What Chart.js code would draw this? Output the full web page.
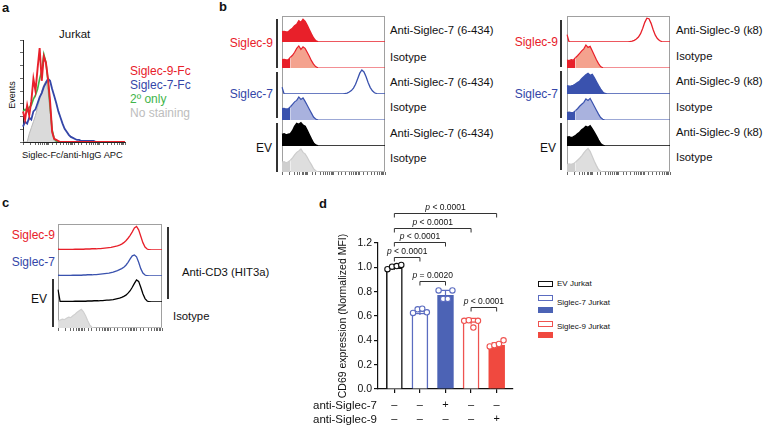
<!DOCTYPE html>
<html lang="en">
<head>
<meta charset="UTF-8" />
<title>Siglec-7 / Siglec-9 Jurkat figure</title>
<script src="https://cdn.jsdelivr.net/npm/chart.js"></script>
<style>
  body { margin: 0; background: #fff; font-family: 'Liberation Sans', Arial, sans-serif; color: #111; }
  #fig { position: relative; width: 763px; height: 427px; overflow: hidden; }
  #fig canvas { position: absolute; }
  .t { position: absolute; white-space: nowrap; line-height: 1; transform: translateY(-50%); }
  .r { transform: translate(-100%, -50%); }
  .pl { font-weight: bold; font-size: 13px; }
  .vb { position: absolute; width: 1.5px; background: #333; }
  .lg { position: absolute; width: 15px; height: 6px; box-sizing: border-box; }
  .lab { font-size: 11.3px; }
</style>
</head>
<body>
<div id="fig">
  <!-- panel a -->
  <div class="t pl" style="left:2px;top:7px">a</div>
  <div class="t" style="left:59px;top:35px;font-size:11.5px">Jurkat</div>
  <div class="t" style="left:12px;top:95px;font-size:9px;transform:translate(-50%,-50%) rotate(-90deg)">Events</div>
  <div class="t" style="left:22px;top:156px;font-size:9.3px">Siglec-Fc/anti-hIgG APC</div>
  <div class="t" style="left:130px;top:71px;font-size:12px;color:#e8202a">Siglec-9-Fc</div>
  <div class="t" style="left:130px;top:85px;font-size:12px;color:#3446a8">Siglec-7-Fc</div>
  <div class="t" style="left:130px;top:99px;font-size:12px;color:#3fb54a">2º only</div>
  <div class="t" style="left:130px;top:113px;font-size:12px;color:#bdbdbd">No staining</div>
  <canvas id="pa" width="112" height="112" style="left:18px;top:36px"></canvas>

  <!-- panel b -->
  <div class="t pl" style="left:219px;top:6px">b</div>
  <div class="t r" style="left:273px;top:43px;font-size:12px;color:#e8202a">Siglec-9</div>
  <div class="t r" style="left:273px;top:94px;font-size:12px;color:#3446a8">Siglec-7</div>
  <div class="t r" style="left:272px;top:148px;font-size:12px">EV</div>
  <div class="vb" style="left:276px;top:19px;height:49px"></div>
  <div class="vb" style="left:276px;top:72px;height:46px"></div>
  <div class="vb" style="left:276px;top:123px;height:49px"></div>
  <canvas id="pbl" width="108" height="163" style="left:280px;top:14px"></canvas>
  <div class="t lab" style="left:390px;top:31px">Anti-Siglec-7 (6-434)</div>
  <div class="t lab" style="left:390px;top:58px">Isotype</div>
  <div class="t lab" style="left:390px;top:83px">Anti-Siglec-7 (6-434)</div>
  <div class="t lab" style="left:390px;top:108px">Isotype</div>
  <div class="t lab" style="left:390px;top:134px">Anti-Siglec-7 (6-434)</div>
  <div class="t lab" style="left:390px;top:159px">Isotype</div>

  <div class="t r" style="left:558px;top:42px;font-size:12px;color:#e8202a">Siglec-9</div>
  <div class="t r" style="left:558px;top:94px;font-size:12px;color:#3446a8">Siglec-7</div>
  <div class="t r" style="left:556px;top:148px;font-size:12px">EV</div>
  <div class="vb" style="left:560px;top:20px;height:47px"></div>
  <div class="vb" style="left:560px;top:71px;height:47px"></div>
  <div class="vb" style="left:560px;top:123px;height:47px"></div>
  <canvas id="pbr" width="108" height="163" style="left:565px;top:14px"></canvas>
  <div class="t lab" style="left:676px;top:31px">Anti-Siglec-9 (k8)</div>
  <div class="t lab" style="left:676px;top:57px">Isotype</div>
  <div class="t lab" style="left:676px;top:82px">Anti-Siglec-9 (k8)</div>
  <div class="t lab" style="left:676px;top:108px">Isotype</div>
  <div class="t lab" style="left:676px;top:133px">Anti-Siglec-9 (k8)</div>
  <div class="t lab" style="left:676px;top:158px">Isotype</div>

  <!-- panel c -->
  <div class="t pl" style="left:2px;top:202px">c</div>
  <div class="t r" style="left:55px;top:235px;font-size:12px;color:#e8202a">Siglec-9</div>
  <div class="t r" style="left:55px;top:262px;font-size:12px;color:#3446a8">Siglec-7</div>
  <div class="t r" style="left:47px;top:299px;font-size:12px">EV</div>
  <div class="vb" style="left:52px;top:279px;height:48px"></div>
  <canvas id="pc" width="109" height="111" style="left:56px;top:222px"></canvas>
  <div class="vb" style="left:167px;top:227px;height:72px"></div>
  <div class="t lab" style="left:182px;top:273px">Anti-CD3 (HIT3a)</div>
  <div class="t lab" style="left:173px;top:317px">Isotype</div>

  <!-- panel d -->
  <div class="t pl" style="left:319px;top:203px">d</div>
  <canvas id="pd" width="190" height="227" style="left:330px;top:200px"></canvas>
  <div class="t" style="left:313px;top:406px;font-size:11.5px">anti-Siglec-7</div>
  <div class="t" style="left:313px;top:420px;font-size:11.5px">anti-Siglec-9</div>
  <div class="lg" style="left:538px;top:281px;border:1.3px solid #111"></div>
  <div class="lg" style="left:538px;top:295px;border:1.3px solid #5b6cc0"></div>
  <div class="lg" style="left:538px;top:307px;background:#4c63b5"></div>
  <div class="lg" style="left:538px;top:321px;border:1.3px solid #ef5350"></div>
  <div class="lg" style="left:538px;top:332px;background:#f0493f"></div>
  <div class="t" style="left:557px;top:284px;font-size:8px">EV Jurkat</div>
  <div class="t" style="left:557px;top:303px;font-size:8px">Siglec-7 Jurkat</div>
  <div class="t" style="left:557px;top:327px;font-size:8px">Siglec-9 Jurkat</div>
</div>

<script>
  Chart.defaults.font.family = "'Liberation Sans', Arial, sans-serif";
  Chart.defaults.color = '#111';

  // histogram bins (log fluorescence channels, left to right)
  const bins = Array.from({length: 50}, (_, i) => i);

  // panel a: Jurkat stained with Siglec-Fc
  const noStain = [0,0,0,0.08,0.14,0.2,0.26,0.34,0.42,0.5, 0.56,0.6,0.5,0.3,0.08,0.01,0,0,0,0,
    0,0,0,0,0,0,0,0,0,0, 0,0,0,0,0,0,0,0,0,0, 0,0,0,0,0,0,0,0,0,0];
  const secOnly = [0.3,0.32,0.3,0.34,0.36,0.42,0.46,0.52,0.62,0.7, 0.86,0.78,0.6,0.35,0.12,0.03,0.01,0,0,0,
    0,0,0,0,0,0,0,0,0,0, 0,0,0,0,0,0,0,0,0,0, 0,0,0,0,0,0,0,0,0,0];
  const sig9Fc = [0.3,0.22,0.36,0.26,0.4,0.62,0.5,0.72,0.92,0.6, 0.84,0.78,0.62,0.4,0.1,0.03,0.02,0.01,0,0,
    0,0,0,0,0,0,0,0,0,0, 0,0,0,0,0,0,0,0,0,0, 0,0,0,0,0,0,0,0,0,0];
  const sig7Fc = [0.15,0.2,0.18,0.24,0.22,0.3,0.32,0.38,0.44,0.48, 0.54,0.58,0.62,0.6,0.52,0.45,0.38,0.3,0.24,0.18,
    0.13,0.1,0.07,0.05,0.04,0.03,0.02,0.02,0.01,0.01, 0.01,0.01,0.01,0.01,0.01,0,0,0,0,0, 0,0,0,0,0,0,0,0,0,0];

  // panel b left: anti-Siglec-7 (6-434)
  const sig9Anti7 = [0.42,0.43,0.41,0.42,0.5,0.56,0.66,0.72,0.86,0.8, 0.92,0.84,0.68,0.5,0.32,0.16,0.05,0.01,0,0,
    0,0,0,0,0,0,0,0,0,0, 0,0,0,0,0,0,0,0,0,0, 0,0,0,0,0,0,0,0,0,0];
  const sig9Iso7 = [0.34,0.35,0.33,0.34,0.44,0.52,0.64,0.8,0.9,0.76, 0.86,0.8,0.64,0.48,0.3,0.16,0.06,0.01,0,0,
    0,0,0,0,0,0,0,0,0,0, 0,0,0,0,0,0,0,0,0,0, 0,0,0,0,0,0,0,0,0,0];
  const sig7Anti7 = [0.28,0,0,0,0,0,0,0,0,0, 0,0,0,0,0,0,0,0,0,0, 0,0,0,0,0,0,0,0,0,0,
    0.02,0.04,0.08,0.14,0.24,0.4,0.62,0.85,0.98,0.9, 0.7,0.46,0.26,0.13,0.05,0.02,0,0,0,0];
  const sig7Iso7 = [0.46,0.47,0.45,0.46,0.54,0.64,0.74,0.8,0.94,0.84, 0.9,0.76,0.6,0.44,0.28,0.12,0.04,0.01,0,0,
    0,0,0,0,0,0,0,0,0,0, 0,0,0,0,0,0,0,0,0,0, 0,0,0,0,0,0,0,0,0,0];
  const evAnti7 = [0.47,0.5,0.45,0.48,0.5,0.62,0.8,0.92,0.88,0.95, 0.85,0.8,0.64,0.46,0.28,0.12,0.04,0.01,0,0,
    0,0,0,0,0,0,0,0,0,0, 0,0,0,0,0,0,0,0,0,0, 0,0,0,0,0,0,0,0,0,0];
  const evIso7 = [0.4,0.42,0.38,0.42,0.48,0.58,0.7,0.8,0.86,0.94, 0.8,0.74,0.6,0.44,0.3,0.14,0.05,0.01,0,0,
    0,0,0,0,0,0,0,0,0,0, 0,0,0,0,0,0,0,0,0,0, 0,0,0,0,0,0,0,0,0,0];

  // panel b right: anti-Siglec-9 (k8)
  const sig9Anti9 = [0.3,0,0,0,0,0,0,0,0,0, 0,0,0,0,0,0,0,0,0,0, 0,0,0,0,0,0,0,0,0,0,
    0.02,0.04,0.07,0.12,0.2,0.34,0.55,0.8,0.97,0.95, 0.76,0.5,0.28,0.14,0.06,0.02,0,0,0,0];
  const sig9Iso9 = [0.32,0.3,0.34,0.32,0.42,0.5,0.6,0.7,0.78,0.94, 0.84,0.88,0.7,0.52,0.34,0.18,0.06,0.01,0,0,
    0,0,0,0,0,0,0,0,0,0, 0,0,0,0,0,0,0,0,0,0, 0,0,0,0,0,0,0,0,0,0];
  const sig7Anti9 = [0.34,0.32,0.33,0.35,0.4,0.46,0.52,0.62,0.7,0.78, 0.84,0.76,0.8,0.66,0.5,0.34,0.2,0.08,0.02,0,
    0,0,0,0,0,0,0,0,0,0, 0,0,0,0,0,0,0,0,0,0, 0,0,0,0,0,0,0,0,0,0];
  const sig7Iso9 = [0.3,0.32,0.3,0.31,0.38,0.46,0.56,0.64,0.72,0.86, 0.8,0.88,0.72,0.56,0.4,0.24,0.1,0.03,0,0,
    0,0,0,0,0,0,0,0,0,0, 0,0,0,0,0,0,0,0,0,0, 0,0,0,0,0,0,0,0,0,0];
  const evAnti9 = [0.36,0.38,0.34,0.37,0.42,0.5,0.56,0.66,0.72,0.8, 0.76,0.82,0.7,0.56,0.4,0.24,0.1,0.03,0,0,
    0,0,0,0,0,0,0,0,0,0, 0,0,0,0,0,0,0,0,0,0, 0,0,0,0,0,0,0,0,0,0];
  const evIso9 = [0.3,0.33,0.31,0.34,0.4,0.48,0.56,0.66,0.78,0.88, 0.96,0.84,0.64,0.44,0.26,0.1,0.03,0,0,0,
    0,0,0,0,0,0,0,0,0,0, 0,0,0,0,0,0,0,0,0,0, 0,0,0,0,0,0,0,0,0,0];

  // panel c: anti-CD3 (HIT3a)
  const cd3Sig9 = [0.03,0.02,0.02,0.02,0.02,0.02,0.02,0.02,0.03,0.03, 0.03,0.03,0.03,0.04,0.04,0.04,0.05,0.05,0.05,0.06,
    0.06,0.07,0.08,0.09,0.1,0.11,0.13,0.15,0.17,0.2, 0.24,0.3,0.38,0.48,0.6,0.74,0.9,0.96,0.82,0.56, 0.3,0.12,0.04,0.01,0,0,0,0,0,0];
  const cd3Sig7 = [0.03,0.02,0.02,0.02,0.02,0.02,0.02,0.03,0.03,0.03, 0.03,0.03,0.04,0.04,0.05,0.05,0.05,0.06,0.06,0.07,
    0.08,0.09,0.1,0.11,0.12,0.14,0.16,0.19,0.22,0.26, 0.3,0.36,0.44,0.56,0.7,0.82,0.86,0.78,0.56,0.3, 0.12,0.04,0.01,0,0,0,0,0,0,0];
  const cd3Ev = [0.5,0.02,0.02,0.02,0.02,0.02,0.02,0.02,0.03,0.03, 0.03,0.03,0.03,0.03,0.04,0.04,0.04,0.05,0.05,0.05,
    0.06,0.06,0.07,0.08,0.08,0.09,0.1,0.12,0.14,0.16, 0.19,0.23,0.28,0.36,0.46,0.6,0.76,0.9,0.84,0.6, 0.34,0.14,0.04,0.01,0,0,0,0,0,0];
  const cd3Iso = [0.28,0.32,0.36,0.34,0.4,0.44,0.42,0.5,0.56,0.64, 0.7,0.76,0.66,0.5,0.3,0.12,0.03,0,0,0,
    0,0,0,0,0,0,0,0,0,0, 0,0,0,0,0,0,0,0,0,0, 0,0,0,0,0,0,0,0,0,0];

  // panel d: CD69 expression
  const groups = ['EV', 'Siglec-7', 'Siglec-7 + anti-Siglec-7', 'Siglec-9', 'Siglec-9 + anti-Siglec-9'];
  const antiS7 = ['\u2013', '\u2013', '+', '\u2013', '\u2013'];
  const antiS9 = ['\u2013', '\u2013', '\u2013', '\u2013', '+'];
  const barMFI = [0.995, 0.625, 0.77, 0.555, 0.36];
  const sdMFI = [0.015, 0.017, 0.04, 0.025, 0.02];
  const reps = [
    [0.985, 1.005, 1.01, 1.02],
    [0.625, 0.655, 0.66, 0.63],
    [0.81, 0.74, 0.74, 0.81],
    [0.56, 0.565, 0.505, 0.56],
    [0.35, 0.36, 0.37, 0.4]
  ];
  const pairs = [[0, 4], [0, 3], [0, 2], [0, 1], [1, 2], [3, 4]];
  const pText = ['< 0.0001', '< 0.0001', '< 0.0001', '< 0.0001', '= 0.0020', '< 0.0001'];
  const bracketY = [1.445, 1.322, 1.207, 1.085, 0.887, 0.674];

  const RED = '#e8202a', BLUE = '#3a52ae', BLACK = '#000';
  const SALMON = '#f4a28e', LBLUE = '#a9b2de', LGRAY = '#dedede';

  function logTicks(axisLine) {
    return {
      type: 'logarithmic', position: 'bottom', min: 10, max: 100000,
      border: {display: axisLine, color: '#222', width: 1},
      grid: {drawOnChartArea: false, tickLength: 3, color: '#444', lineWidth: 0.8},
      ticks: {display: false, autoSkip: false}
    };
  }

  const frame = {
    id: 'frame',
    beforeDatasetsDraw(chart) {
      const a = chart.chartArea, ctx = chart.ctx;
      ctx.save();
      ctx.strokeStyle = '#a0a0a0';
      ctx.lineWidth = 1;
      ctx.strokeRect(a.left + 0.5, a.top + 0.5, a.right - a.left - 1, a.bottom - a.top - 1);
      ctx.restore();
    }
  };

  const baseOpts = {
    responsive: false, animation: false, events: [],
    elements: {point: {radius: 0}, line: {tension: 0}},
    plugins: {legend: {display: false}, tooltip: {enabled: false}}
  };

  // one stacked y axis per histogram row
  function rowsChart(id, rows) {
    const scales = {x: {display: false, offset: false}, xt: logTicks(false)};
    const datasets = rows.map((row, i) => {
      scales['r' + i] = {position: 'right', stack: 'rows', stackWeight: 1, min: 0, max: 1.06, display: false};
      const ds = {
        data: row.data, yAxisID: 'r' + i,
        borderColor: row.line, borderWidth: row.width || 1.2,
        fill: row.fill ? 'origin' : false,
        backgroundColor: row.fill || 'transparent'
      };
      if (row.block) {
        ds.segment = {backgroundColor: c => c.p0DataIndex < 4 ? row.block : undefined};
      }
      return ds;
    });
    new Chart(document.getElementById(id), {
      type: 'line',
      data: {labels: bins, datasets},
      options: Object.assign({}, baseOpts, {
        layout: {padding: {left: 2, top: 2, right: 3, bottom: 2}},
        scales
      }),
      plugins: [frame]
    });
  }

  rowsChart('pbl', [
    {data: sig9Anti7, line: RED, fill: RED, width: 1.5},
    {data: sig9Iso7, line: RED, fill: SALMON, block: RED},
    {data: sig7Anti7, line: BLUE, width: 1.3},
    {data: sig7Iso7, line: BLUE, fill: LBLUE, block: BLUE},
    {data: evAnti7, line: BLACK, fill: BLACK, width: 1.5},
    {data: evIso7, line: '#cccccc', fill: LGRAY, block: '#cfcfcf'}
  ]);

  rowsChart('pbr', [
    {data: sig9Anti9, line: RED, width: 1.3},
    {data: sig9Iso9, line: RED, fill: SALMON, block: RED},
    {data: sig7Anti9, line: BLUE, fill: BLUE, width: 1.5},
    {data: sig7Iso9, line: BLUE, fill: LBLUE, block: BLUE},
    {data: evAnti9, line: BLACK, fill: BLACK, width: 1.5},
    {data: evIso9, line: '#cccccc', fill: LGRAY, block: '#cfcfcf'}
  ]);

  rowsChart('pc', [
    {data: cd3Sig9, line: RED, width: 1.3},
    {data: cd3Sig7, line: BLUE, width: 1.3},
    {data: cd3Ev, line: BLACK, width: 1.3},
    {data: cd3Iso, line: '#d0d0d0', fill: LGRAY}
  ]);

  // panel a: overlaid histograms, first dataset drawn on top
  new Chart(document.getElementById('pa'), {
    type: 'line',
    data: {
      labels: bins,
      datasets: [
        {data: sig9Fc, borderColor: RED, borderWidth: 1.9},
        {data: sig7Fc, borderColor: '#3446a8', borderWidth: 1.8},
        {data: secOnly, borderColor: '#3fb54a', borderWidth: 1.6},
        {data: noStain, borderColor: '#b8b8b8', backgroundColor: '#dadada', fill: 'origin', borderWidth: 1}
      ]
    },
    options: Object.assign({}, baseOpts, {
      layout: {padding: {left: 2, top: 4, right: 5, bottom: 3}},
      scales: {
        x: {display: false, offset: false},
        xt: logTicks(true),
        y: {
          min: 0, max: 1,
          border: {color: '#222', width: 1},
          grid: {drawOnChartArea: false, tickLength: 3, color: '#444', lineWidth: 0.8},
          ticks: {display: false, stepSize: 0.125}
        }
      }
    })
  });

  // panel d: bars, replicate dots, error bars and p-value brackets
  const barEdge = ['#111', '#5b6cc0', '#4c63b5', '#ef5350', '#f0493f'];
  const barFill = ['#fff', '#fff', '#4c63b5', '#fff', '#f0493f'];
  const dotEdge = ['#111', '#5b6cc0', '#5b6cc0', '#ef5350', '#ef5350'];
  const dotX = [-0.27, -0.09, 0.09, 0.27];

  const annot = {
    id: 'annot',
    afterDatasetDraw(chart, args) {
      if (args.meta.type !== 'bar') return;
      const {x, y} = chart.scales, ctx = chart.ctx;
      ctx.save();
      ctx.lineWidth = 1.2;
      barMFI.forEach((m, i) => {
        const px = x.getPixelForValue(i);
        const top = y.getPixelForValue(m + sdMFI[i]);
        const bot = y.getPixelForValue(m - sdMFI[i]);
        ctx.strokeStyle = dotEdge[i];
        ctx.beginPath();
        ctx.moveTo(px, bot); ctx.lineTo(px, top);
        ctx.moveTo(px - 5, top); ctx.lineTo(px + 5, top);
        ctx.stroke();
      });
      ctx.restore();
    },
    afterDraw(chart) {
      const {x, y} = chart.scales, ctx = chart.ctx;
      ctx.save();
      ctx.strokeStyle = '#333';
      ctx.fillStyle = '#111';
      ctx.lineWidth = 1;
      ctx.textBaseline = 'middle';
      pairs.forEach(([a, b], k) => {
        const x0 = x.getPixelForValue(a), x1 = x.getPixelForValue(b);
        const yy = Math.round(y.getPixelForValue(bracketY[k])) + 0.5;
        ctx.beginPath();
        ctx.moveTo(x0, yy + 4); ctx.lineTo(x0, yy); ctx.lineTo(x1, yy); ctx.lineTo(x1, yy + 4);
        ctx.stroke();
        const italic = "italic 8.5px 'Liberation Sans', Arial, sans-serif";
        const plain = "8.5px 'Liberation Sans', Arial, sans-serif";
        ctx.font = italic;
        const wp = ctx.measureText('p').width;
        ctx.font = plain;
        const rest = ' ' + pText[k];
        const wr = ctx.measureText(rest).width;
        const sx = (x0 + x1) / 2 - (wp + wr) / 2;
        ctx.textAlign = 'left';
        ctx.font = italic;
        ctx.fillText('p', sx, yy - 6);
        ctx.font = plain;
        ctx.fillText(rest, sx + wp, yy - 6);
      });
      ctx.restore();
    }
  };

  new Chart(document.getElementById('pd'), {
    type: 'bar',
    data: {
      datasets: [
        {
          type: 'bar', order: 2,
          data: barMFI.map((v, i) => ({x: i, y: v})),
          backgroundColor: barFill, borderColor: barEdge, borderWidth: 1.5,
          barThickness: 16
        },
        ...groups.map((g, i) => ({
          type: 'scatter', order: 1, label: g,
          data: reps[i].map((v, j) => ({x: i + dotX[j], y: v})),
          pointRadius: 2.7, pointBackgroundColor: '#fff',
          pointBorderColor: dotEdge[i], pointBorderWidth: 1.1
        }))
      ]
    },
    options: Object.assign({}, baseOpts, {
      layout: {padding: {left: 0, top: 43, right: 7, bottom: 0}},
      scales: {
        x: {
          type: 'linear', min: -0.64, max: 4.64, offset: false,
          border: {color: '#111', width: 1.2},
          grid: {offset: false, drawOnChartArea: false, tickLength: 4, color: '#111', lineWidth: 1.2},
          ticks: {
            stepSize: 1, includeBounds: false, autoSkip: false, maxRotation: 0,
            font: {size: 11, lineHeight: 1.3}, padding: 5,
            callback: v => Number.isInteger(v) ? [antiS7[v], antiS9[v]] : ''
          },
          afterFit: s => { s.height = 38; }
        },
        y: {
          min: 0, max: 1.2,
          border: {color: '#111', width: 1.2},
          grid: {drawOnChartArea: false, tickLength: 4, color: '#111', lineWidth: 1.2},
          ticks: {stepSize: 0.2, font: {size: 10.5}, padding: 2, callback: v => v.toFixed(1)},
          title: {display: true, text: 'CD69 expression (Normalized MFI)', font: {size: 10.5}, padding: {top: 7, bottom: 0}},
          afterFit: s => { s.width = 48; }
        }
      }
    }),
    plugins: [annot]
  });
</script>
</body>
</html>
